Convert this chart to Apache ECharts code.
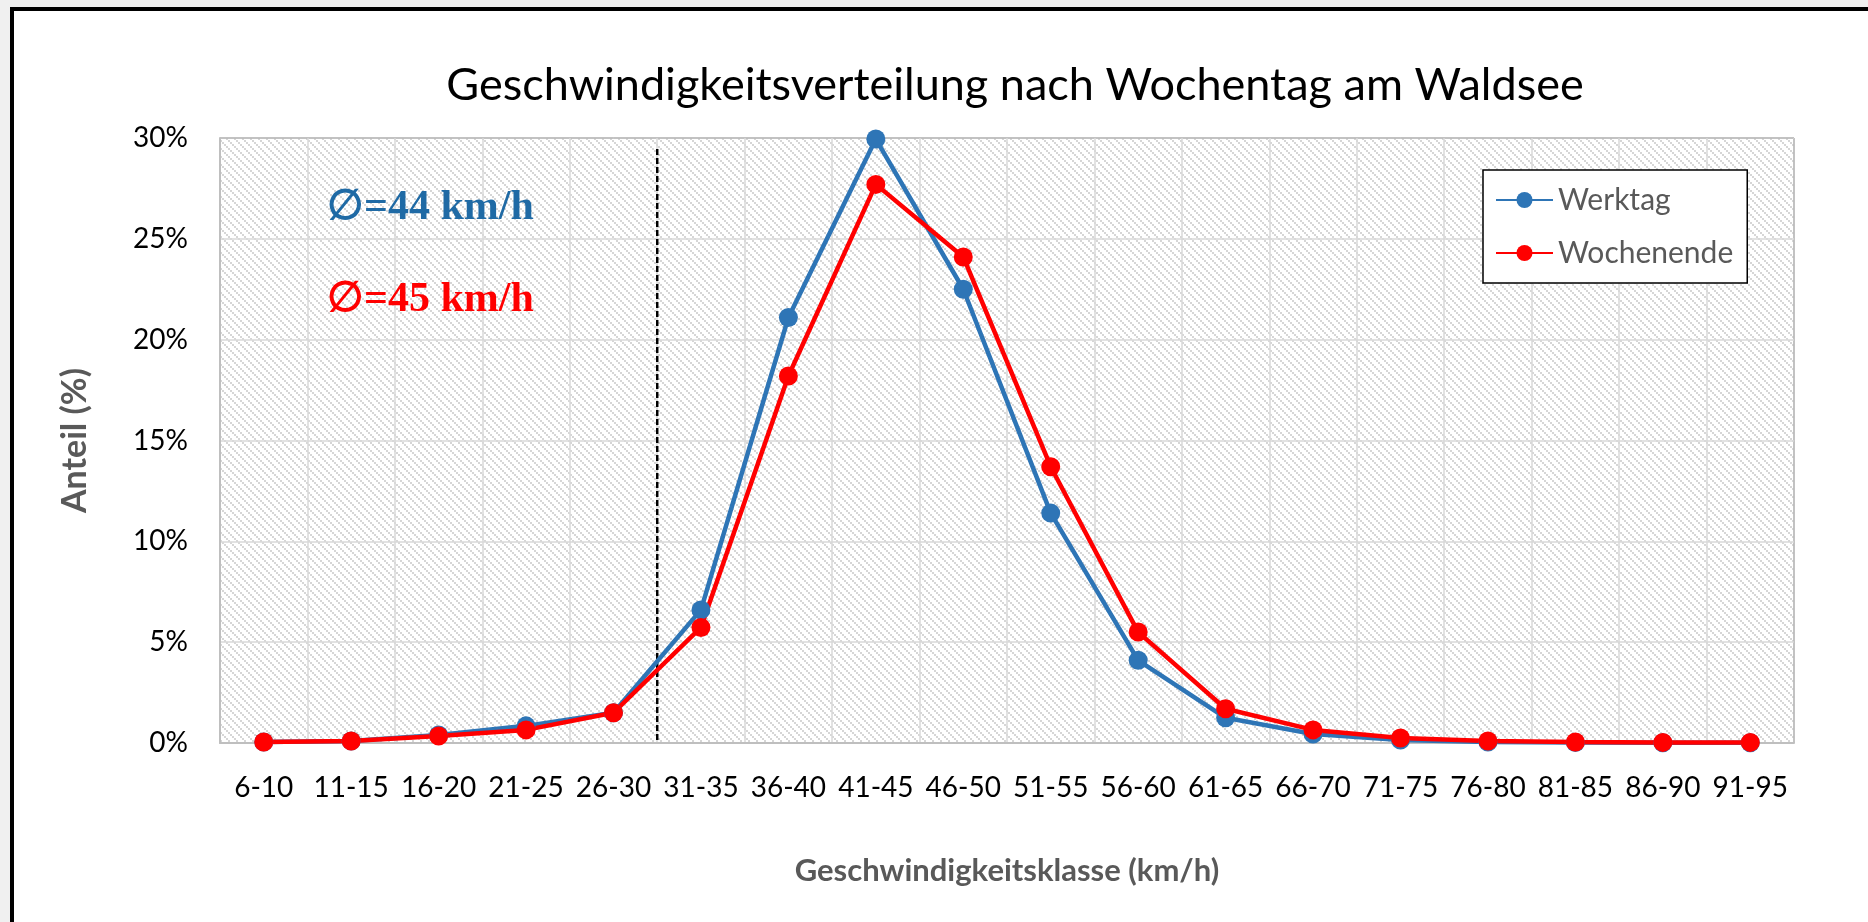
<!DOCTYPE html>
<html><head><meta charset="utf-8">
<script src="https://cdn.jsdelivr.net/npm/echarts@6/dist/echarts.min.js"></script>
<style>html,body{margin:0;padding:0;background:#f0f0f0;}#c{width:1868px;height:922px;}</style>
</head><body><div id="c"></div>
<script>
const categories = ["6-10","11-15","16-20","21-25","26-30","31-35","36-40","41-45","46-50","51-55","56-60","61-65","66-70","71-75","76-80","81-85","86-90","91-95"];
const werktag = [0.05,0.1,0.4,0.85,1.5,6.6,21.1,29.95,22.5,11.4,4.1,1.25,0.45,0.15,0.05,0.02,0.01,0.01];
const wochenende = [0.05,0.1,0.35,0.65,1.5,5.73,18.2,27.7,24.1,13.7,5.5,1.7,0.65,0.25,0.1,0.05,0.03,0.03];
const yTicks = {min:0, max:30, interval:5};
const titleText = "Geschwindigkeitsverteilung nach Wochentag am Waldsee";
const meanWerktag = "∅=44 km/h";
const meanWochenende = "∅=45 km/h";
// dashed divider between 26-30 and 31-35 (category index 4.5), from ~0.2% to ~29.5%
const dividerX = [4.5, 4.5];
const dividerY = [0.15, 29.5];

const FONT = "Lato, 'Open Sans', sans-serif";

function hatch(){
  const s = 8, cv = document.createElement('canvas');
  cv.width = s; cv.height = s;
  const g = cv.getContext('2d');
  g.fillStyle = '#ffffff'; g.fillRect(0,0,s,s);
  g.fillStyle = '#d6d6d6';
  for (let by = 0; by < 4; by++) for (let bx = 0; bx < 4; bx++) {
    if (((bx - by) % 4 + 4) % 4 === 0) g.fillRect(bx*2, by*2, 2, 2);
  }
  return cv;
}

const chart = echarts.init(document.getElementById('c'), null, {renderer:'canvas'});
chart.setOption({
  backgroundColor: 'transparent',
  animation: false,
  graphic: [
    {type:'rect', z:-10, shape:{x:12,y:9,width:1900,height:960}, style:{fill:'#ffffff', stroke:'#000', lineWidth:4}},
    {type:'text', left:327, top:187, style:{text:meanWerktag, font:"bold 42px 'Liberation Serif', serif", fill:'#1F6AA5'}, z:10},
    {type:'text', left:327, top:279, style:{text:meanWochenende, font:"bold 42px 'Liberation Serif', serif", fill:'#FF0000'}, z:10}
  ],
  title: {text:titleText, left:1010, top:58, textAlign:'center',
    textStyle:{fontFamily:FONT, fontSize:45, fontWeight:'normal', color:'#000'}},
  legend: {orient:'vertical', left:1483, top:170, padding:[15,14,15,12], itemGap:23,
    itemWidth:57, itemHeight:20, backgroundColor:'#fff', borderColor:'#000', borderWidth:1.5,
    textStyle:{fontFamily:FONT, fontSize:30, color:'#595959'},
    data:['Werktag','Wochenende']},
  grid: {left:220, right:74, top:138, bottom:179, show:true, borderColor:'#000', borderWidth:1,
    backgroundColor:{image:hatch(), repeat:'repeat'}},
  xAxis: [{type:'category', data:categories, boundaryGap:true,
    name:'Geschwindigkeitsklasse (km/h)', nameLocation:'middle', nameGap:112,
    nameTextStyle:{fontFamily:FONT, fontSize:31, fontWeight:'bold', color:'#595959'},
    axisLine:{lineStyle:{color:'#bfbfbf', width:2}}, axisTick:{show:false},
    axisLabel:{interval:0, fontFamily:FONT, fontSize:28, color:'#000', margin:31},
    splitLine:{show:true, interval:0, lineStyle:{color:'#d9d9d9', width:1.5}}},
    {type:'value', show:false, min:-0.5, max:categories.length-0.5, position:'bottom',
      splitLine:{show:false}, axisLine:{show:false}}],
  yAxis: {type:'value', min:yTicks.min, max:yTicks.max, interval:yTicks.interval,
    name:'Anteil (%)', nameLocation:'middle', nameGap:128,
    nameTextStyle:{fontFamily:FONT, fontSize:34, fontWeight:'bold', color:'#595959'},
    axisLine:{show:true, onZero:false, lineStyle:{color:'#bfbfbf', width:2}}, axisTick:{show:false},
    axisLabel:{formatter:'{value}%', fontFamily:FONT, fontSize:28, color:'#000', margin:32},
    splitLine:{show:true, lineStyle:{color:'#d9d9d9', width:1.5}}},
  series: [
    {name:'divider', type:'line', xAxisIndex:1, data:dividerX.map((x,i)=>[x, dividerY[i]]),
      symbol:'none', silent:true, z:1, lineStyle:{color:'#000', type:[6,3], width:2.5}},
    {name:'Werktag', type:'line', data:werktag, symbol:'circle', symbolSize:19,
      lineStyle:{width:4.5, color:'#2E75B6'}, itemStyle:{color:'#2E75B6'}},
    {name:'Wochenende', type:'line', data:wochenende, symbol:'circle', symbolSize:19,
      lineStyle:{width:4.5, color:'#FF0000'}, itemStyle:{color:'#FF0000'}}
  ]
});
</script></body></html>
